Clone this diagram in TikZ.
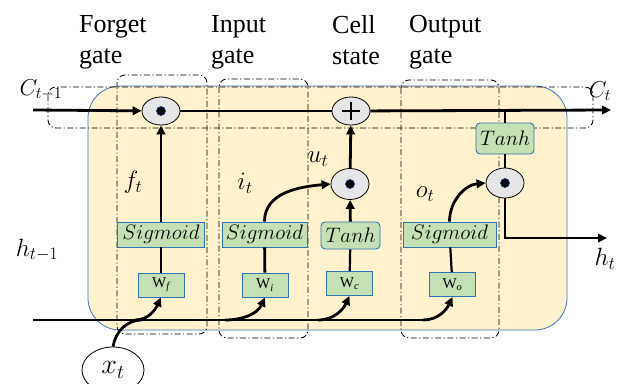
\RequirePackage{fix-cm}
\documentclass[tikz,border=0pt]{standalone}
\usepackage{fontspec}
\setmainfont{Liberation Serif}
\usetikzlibrary{arrows.meta,shapes.geometric}
\definecolor{cellfill}{HTML}{FFF2CC}
\definecolor{cellborder}{HTML}{4472C4}
\definecolor{gfill}{HTML}{C5E0B4}
\definecolor{gborder}{HTML}{2E75B6}
\definecolor{opfill}{HTML}{E7E6E6}
\definecolor{dotborder}{HTML}{1F3C88}
\begin{document}
\begin{tikzpicture}[x=1pt,y=-1pt,
  thickline/.style={line width=2.8pt},
  midline/.style={line width=2.2pt},
  arr/.style={line width=2.8pt,-{Triangle[length=9pt,width=8.5pt]}},
  gatebox/.style={draw=black,line width=0.8pt,dash pattern=on 6pt off 2.5pt on 1.2pt off 2.5pt,rounded corners=8pt},
  actbox/.style={draw=gborder,fill=gfill,line width=0.9pt,minimum height=25pt,inner sep=0pt,font=\fontsize{21}{21}\selectfont},
  wbox/.style={draw=gborder,fill=gfill,line width=0.9pt,minimum width=46pt,minimum height=24pt,inner sep=0pt,font=\fontsize{15}{15}\selectfont},
  opnode/.style={ellipse,draw=black,fill=opfill,line width=0.8pt,minimum width=38pt,minimum height=28pt,inner sep=0pt},
  opdot/.style={circle,fill=black,draw=dotborder,line width=0.7pt,minimum size=9pt,inner sep=0pt},
  glabel/.style={anchor=north west,inner sep=0pt,align=left,font=\fontsize{26}{31}\selectfont},
  mlabel/.style={inner sep=0pt,font=\fontsize{25}{25}\selectfont}
]
\useasboundingbox (0,0) rectangle (621,383);
% cell background
\draw[draw=cellborder,fill=cellfill,line width=0.8pt,rounded corners=32pt] (88,86) rectangle (567,330);
% dash-dot boxes
\draw[gatebox] (48,87) rectangle (593,128);
\draw[gatebox] (117,75) rectangle (207,334);
\draw[gatebox] (219,79) rectangle (308,338);
\draw[gatebox] (401,80) rectangle (499,338);
% headings
\node[glabel] (lforget) at (79,15) {Forget\\gate};
\node[glabel] (linput) at (211,15) {Input\\gate};
\node[glabel] (lcell) at (332,15) {Cell\\state};
\node[glabel] (loutput) at (409,15) {Output\\gate};
% operators
\node[opnode] (mf) at (161,111) {};
\node[opdot] (mfdot) at (161,111) {};
\node[opnode] (plus) at (351,111) {};
\node[opnode,minimum height=31pt] (mc) at (350,184) {};
\node[opdot] (mcdot) at (350,184) {};
\node[opnode,minimum height=30pt] (mo) at (505,183) {};
\node[opdot] (modot) at (505,183) {};
\draw[line width=2.4pt] ([xshift=-9pt]plus.center) -- ([xshift=9pt]plus.center);
\draw[line width=2.4pt] ([yshift=-9pt]plus.center) -- ([yshift=9pt]plus.center);
% activation boxes
\node[actbox,minimum width=87pt] (sf) at (161,234.5) {$Sigmoid$};
\node[actbox,minimum width=85pt] (si) at (264.5,234.5) {$Sigmoid$};
\node[actbox,minimum width=59pt,minimum height=27pt,rounded corners=4pt] (tc) at (350.5,235.5) {$Tanh$};
\node[actbox,minimum width=93pt] (so) at (449.5,234.5) {$Sigmoid$};
\node[actbox,minimum width=58pt,minimum height=31pt,rounded corners=4pt] (to) at (505,138.5) {$Tanh$};
% weight boxes
\node[wbox] (Wf) at (161,285) {W\textsubscript{\itshape f}};
\node[wbox] (Wi) at (265,285) {W\textsubscript{\itshape i}};
\node[wbox] (Wc) at (349.5,283.5) {W\textsubscript{\itshape c}};
\node[wbox] (Wo) at (452.5,284.5) {W\textsubscript{\itshape o}};
% input node
\node[ellipse,draw=black,line width=0.8pt,minimum width=62pt,minimum height=46pt,inner sep=0pt,font=\fontsize{28}{28}\selectfont] (xt) at (113,370) {$x_t$};
% coordinates
\coordinate (cin) at (33,110);
\coordinate (cout) at (611,110);
\coordinate (ctap) at (505,110);
\coordinate (hin) at (33,320);
\coordinate (hturn) at (423,320);
\coordinate (bf) at (135,320);
\coordinate (bi) at (225,320);
\coordinate (bc) at (318,320);
\coordinate (xj) at (142,320);
\coordinate (hout) at (607,238);
% cell state line
\draw[arr] (cin) -- (mf);
\draw[thickline] (mf) -- (plus);
\draw[arr] (plus) -- (cout);
% forget gate
\draw[midline] (Wf) -- (sf);
\draw[arr] (sf) -- (mf);
% input gate
\draw[thickline] (Wi) -- (si);
\draw[arr] (si.north) to[out=90,in=185] (mc.west);
% cell candidate
\draw[midline] (Wc) -- (tc);
\draw[arr] (tc) -- (mc);
\draw[arr] (mc) -- (plus);
% output gate
\draw[midline] (Wo) -- (so);
\draw[arr] (so.north) to[out=90,in=185] (mo.west);
\draw[midline] (ctap) -- (to);
\draw[midline] (to) -- (mo);
\draw[arr] (mo.south) |- (hout);
% hidden input line
\draw[thickline] (hin) -- (hturn);
\draw[arr] (hturn) to[out=0,in=-115] (Wo.south);
\draw[arr] (bf) to[out=0,in=-115] (Wf.south);
\draw[arr] (bi) to[out=0,in=-115] (Wi.south);
\draw[arr] (bc) to[out=0,in=-115] (Wc.south);
\draw[thickline] (xt.north) to[out=80,in=180] (xj);
% math labels
\node[mlabel,font=\fontsize{23}{23}\selectfont] (lc1) at (41,90) {$C_{t-1}$};
\node[mlabel,font=\fontsize{23}{23}\selectfont] (lct) at (600,91) {$C_t$};
\node[mlabel] (lft) at (133,182) {$f_t$};
\node[mlabel] (lit) at (245,183) {$i_t$};
\node[mlabel] (lut) at (318,159) {$u_t$};
\node[mlabel] (lot) at (425,194) {$o_t$};
\node[mlabel] (lh1) at (37,250) {$h_{t-1}$};
\node[mlabel] (lht) at (605,259) {$h_t$};
\end{tikzpicture}
\end{document}
